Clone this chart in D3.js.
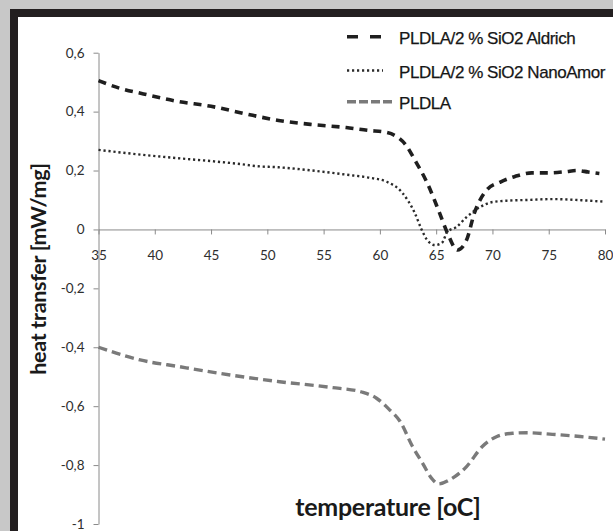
<!DOCTYPE html>
<html>
<head>
<meta charset="utf-8">
<script src="https://cdn.jsdelivr.net/npm/d3@7"></script>
<style>
    body { margin: 0; background: #c8c8c8; }
    svg { display: block; }
    .tick text { font-family: Lato, "Open Sans", sans-serif; font-size: 13.5px; fill: #2e2e2e; }
    .legend text { font-family: "Liberation Sans", Arial, sans-serif; font-size: 17px; fill: #161616; letter-spacing: -0.45px; stroke: #161616; stroke-width: 0.25px; }
    .title { font-family: Lato, "Open Sans", sans-serif; font-weight: bold; fill: #1a1a1a; }
</style>
</head>
<body>
<div id="chart"></div>
<script>
const WIDTH = 613;
const HEIGHT = 531;

// DSC heating curves: temperature (oC) and heat transfer (mW/mg)
var aldrichT = [35, 37, 39, 42, 45, 48, 51, 54, 57, 59, 60.5, 61.5, 62.3, 63.1, 64.2, 65.2, 66, 66.9, 67.7, 68.4, 69.5, 70.7, 72, 73.5, 75, 76.5, 77.5, 78.5, 79.5];
var aldrichHF = [0.505, 0.478, 0.46, 0.435, 0.418, 0.393, 0.37, 0.356, 0.346, 0.336, 0.33, 0.315, 0.287, 0.236, 0.158, 0.066, -0.012, -0.07, -0.036, 0.056, 0.134, 0.161, 0.18, 0.192, 0.192, 0.196, 0.2, 0.195, 0.19];

var nanoT = [35, 38, 42, 45, 47.6, 49, 51, 54, 57, 59, 60.6, 62, 63.1, 63.7, 64.2, 64.9, 65.5, 66, 66.8, 67.7, 68.9, 70, 71.5, 73, 75.4, 78.4, 80];
var nanoHF = [0.27, 0.257, 0.242, 0.232, 0.222, 0.215, 0.211, 0.2, 0.186, 0.176, 0.162, 0.124, 0.056, 0, -0.036, -0.053, -0.046, -0.008, 0.008, 0.042, 0.076, 0.093, 0.098, 0.1, 0.103, 0.098, 0.094];

var pldlaT = [35, 37, 38.7, 42.2, 46.7, 51.1, 55.6, 58.5, 59.7, 60.8, 61.8, 62.9, 63.8, 64.6, 65.2, 66.2, 67.7, 69.1, 70.4, 71.8, 73.1, 75.1, 77.8, 80];
var pldlaHF = [-0.4, -0.425, -0.443, -0.466, -0.494, -0.517, -0.536, -0.553, -0.573, -0.61, -0.652, -0.737, -0.794, -0.845, -0.864, -0.85, -0.805, -0.737, -0.703, -0.692, -0.69, -0.695, -0.703, -0.712];

var xTicks = [35, 40, 45, 50, 55, 60, 65, 70, 75, 80];
var yTicks = [0.6, 0.4, 0.2, 0, -0.2, -0.4, -0.6, -0.8, -1];
var yTickLabels = ["0,6", "0,4", "0,2", "0", "-0,2", "-0,4", "-0,6", "-0,8", "-1"];

var seriesNames = ["PLDLA/2 % SiO2 Aldrich", "PLDLA/2 % SiO2 NanoAmor", "PLDLA"];

var translate = function (x, y) {
    return "translate(" + x + "," + y + ")";
};

var zip = function (xs, ys) {
    return xs.map(function (x, i) { return [x, ys[i]]; });
};

var styles = [
    { stroke: "#1f1f1f", width: 3.6, dash: "8,6", legendDash: "11,12", cap: "butt" },
    { stroke: "#2a2a2a", width: 2.4, dash: "2.2,2.8", legendDash: "2.2,2.8", cap: "butt" },
    { stroke: "#7a7a7a", width: 3.4, dash: "9,5", legendDash: "9,3", cap: "butt" }
];

var drawFrame = function (svg) {
    svg.append("rect").attr("width", WIDTH).attr("height", HEIGHT).attr("fill", "#c8c8c8");
    svg.append("rect").attr("x", 10).attr("y", 9).attr("width", WIDTH).attr("height", HEIGHT).attr("fill", "#231f20");
    svg.append("rect").attr("x", 18).attr("y", 17).attr("width", WIDTH).attr("height", HEIGHT).attr("fill", "#fff");
};

var loadChart = function () {
    var svg = d3.select("#chart").append("svg")
        .attr("width", WIDTH)
        .attr("height", HEIGHT);

    drawFrame(svg);

    var xScale = d3.scaleLinear().domain([35, 80]).range([98.5, 605]);
    var yScale = d3.scaleLinear().domain([0.6, -1]).range([52.7, 524]);

    var yAxis = d3.axisLeft(yScale)
        .tickValues(yTicks)
        .tickFormat(function (d, i) { return yTickLabels[i]; })
        .tickSizeInner(5)
        .tickSizeOuter(0)
        .tickPadding(9);

    var xAxis = d3.axisBottom(xScale)
        .tickValues(xTicks)
        .tickSizeInner(5)
        .tickSizeOuter(0)
        .tickPadding(16);

    var gy = svg.append("g").attr("transform", translate(98.5, 0)).call(yAxis);
    var gx = svg.append("g").attr("transform", translate(0, yScale(0))).call(xAxis);

    [gx, gy].forEach(function (g) {
        g.select(".domain").attr("stroke", "#8a8a8a");
        g.selectAll(".tick line").attr("stroke", "#8a8a8a");
        g.attr("font-family", null).attr("font-size", null);
    });

    var line = d3.line()
        .x(function (d) { return xScale(d[0]); })
        .y(function (d) { return yScale(d[1]); })
        .curve(d3.curveMonotoneX);

    var data = [zip(aldrichT, aldrichHF), zip(nanoT, nanoHF), zip(pldlaT, pldlaHF)];

    data.forEach(function (points, i) {
        svg.append("path")
            .attr("d", line(points))
            .attr("fill", "none")
            .attr("stroke", styles[i].stroke)
            .attr("stroke-width", styles[i].width)
            .attr("stroke-linecap", styles[i].cap)
            .attr("stroke-dasharray", styles[i].dash);
    });

    // legend, top right
    var legend = svg.append("g").attr("class", "legend");
    var rowY = [36.7, 70.5, 101.7];
    var sampleEnd = [383, 383, 394];
    seriesNames.forEach(function (name, i) {
        legend.append("line")
            .attr("x1", 347).attr("x2", sampleEnd[i])
            .attr("y1", rowY[i]).attr("y2", rowY[i])
            .attr("stroke", styles[i].stroke)
            .attr("stroke-width", styles[i].width)
            .attr("stroke-dasharray", styles[i].legendDash);
        legend.append("text")
            .attr("x", 399)
            .attr("y", rowY[i] + 7)
            .text(name);
    });

    svg.append("text")
        .attr("class", "title")
        .attr("x", 388)
        .attr("y", 516)
        .attr("text-anchor", "middle")
        .attr("font-size", 25)
        .attr("letter-spacing", -0.3)
        .text("temperature [oC]");

    svg.append("text")
        .attr("class", "title")
        .attr("transform", translate(46, 269) + " rotate(-90)")
        .attr("text-anchor", "middle")
        .attr("font-size", 21.5)
        .attr("letter-spacing", -0.3)
        .text("heat transfer [mW/mg]");
};

window.onload = loadChart;
</script>
</body>
</html>
